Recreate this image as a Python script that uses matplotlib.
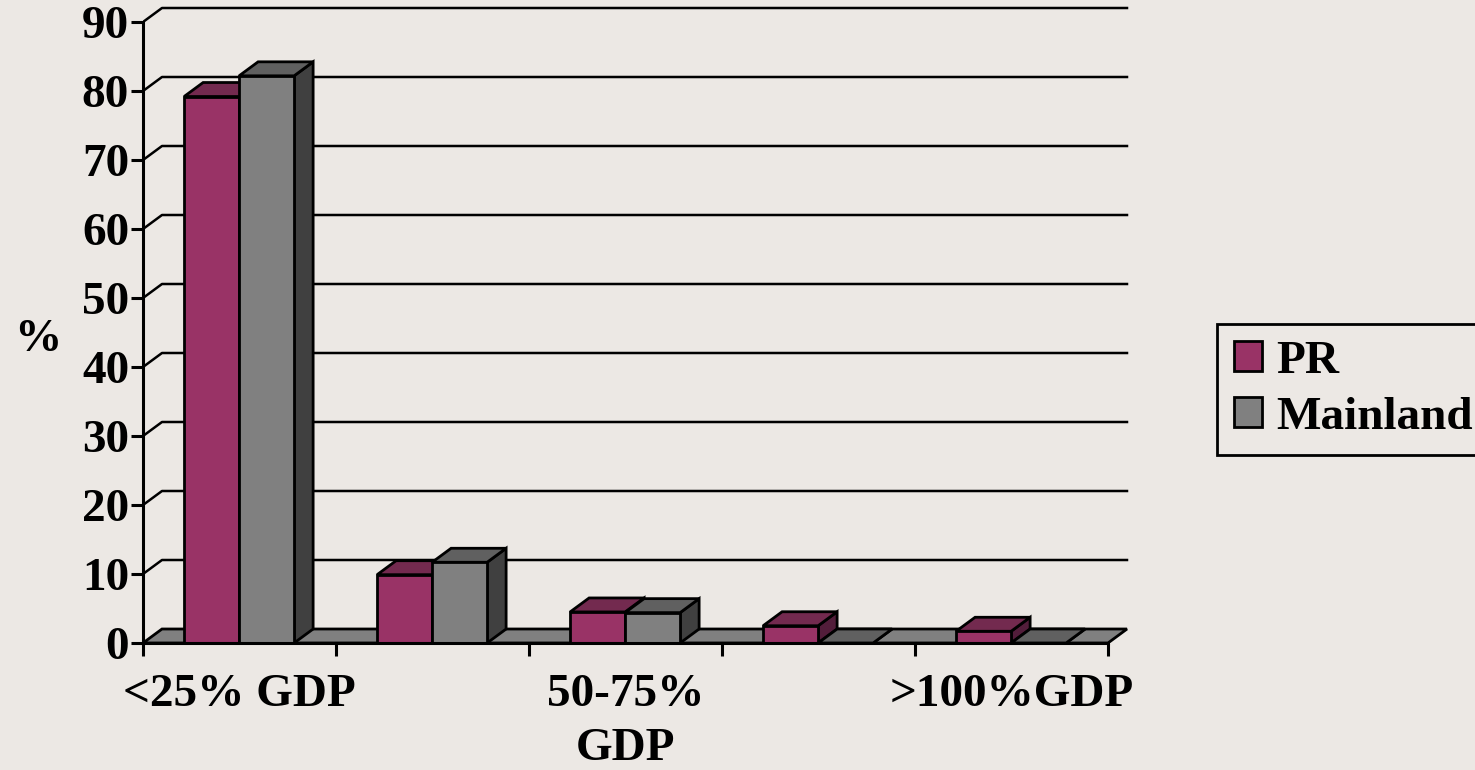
import matplotlib
matplotlib.use('Agg')
import matplotlib.pyplot as plt
from matplotlib.patches import Polygon, Patch

# data
categories = ['<25% GDP', '25-50% GDP', '50-75%\nGDP', '75-100% GDP', '>100%GDP']
shown = [0, 2, 4]   # only every other category label fits
pr = [79.2, 9.9, 4.5, 2.5, 1.7]
mainland = [82.2, 11.7, 4.4, 0, 0]
yticks = list(range(0, 100, 10))

bg = '#ECE8E4'
# front, top, side colours
pr_cols = ('#993366', '#732A4F', '#521D3A')
ml_cols = ('#808080', '#606060', '#404040')

plt.rcParams['font.family'] = 'Liberation Serif'
plt.rcParams['font.weight'] = 'bold'

fig = plt.figure(figsize=(14.75, 7.7), dpi=100, facecolor=bg)
ax = fig.add_axes([143/1475, 127/770, 987/1475, 638/770])
ax.set_facecolor(bg)
n = len(categories)
ax.set_xlim(0, n * 987/965)
ax.set_ylim(0, 90 * 638/621)

# oblique depth offset (about 19 px right, 14 px up)
ddx = 19/193
ddy = 14/6.9

# back wall gridlines with their left-wall diagonals
for v in yticks[1:]:
    ax.plot([0, ddx, n + ddx], [v, v + ddy, v + ddy], color='black', lw=1.8, zorder=1)

# floor
ax.add_patch(Polygon([(0, 0), (n, 0), (n + ddx, ddy), (ddx, ddy)], closed=True,
                     facecolor='#808080', edgecolor='black', lw=2, zorder=2))

w = 0.285
off = 0.213

def box(x0, h, cols):
    front, top, side = cols
    ax.add_patch(Polygon([(x0 + w, 0), (x0 + w + ddx, ddy), (x0 + w + ddx, h + ddy), (x0 + w, h)],
                         closed=True, facecolor=side, edgecolor='black', lw=2, zorder=3))
    ax.add_patch(Polygon([(x0, h), (x0 + w, h), (x0 + w + ddx, h + ddy), (x0 + ddx, h + ddy)],
                         closed=True, facecolor=top, edgecolor='black', lw=2, zorder=3))
    if h > 0:
        ax.add_patch(Polygon([(x0, 0), (x0 + w, 0), (x0 + w, h), (x0, h)],
                             closed=True, facecolor=front, edgecolor='black', lw=2, zorder=3))

for i in range(n):
    box(i + off, pr[i], pr_cols)
    box(i + off + w, mainland[i], ml_cols)

for s in ['top', 'right']:
    ax.spines[s].set_visible(False)
ax.spines['left'].set_bounds(0, 90)
ax.spines['bottom'].set_bounds(0, n)
ax.spines['left'].set_linewidth(2.2)
ax.spines['bottom'].set_linewidth(2.2)
ax.spines['left'].set_zorder(4)
ax.spines['bottom'].set_zorder(4)

ax.set_yticks(yticks)
ax.set_yticklabels([str(t) for t in yticks])
ax.tick_params(axis='y', direction='out', length=9, width=2.2, labelsize=34, pad=1)

ax.set_xticks(range(n + 1))
ax.set_xticklabels([''] * (n + 1))
ax.set_xticks([i + 0.5 for i in shown], minor=True)
ax.set_xticklabels([categories[i] for i in shown], minor=True, linespacing=1.4)
ax.tick_params(axis='x', which='major', direction='out', length=9, width=2.2)
ax.tick_params(axis='x', which='minor', length=0, labelsize=34, pad=22)

fig.text(38/1475, 1 - 340/770, '%', ha='center', va='center', fontsize=34)

handles = [Patch(facecolor=pr_cols[0], edgecolor='black', lw=2),
           Patch(facecolor=ml_cols[0], edgecolor='black', lw=2)]
leg = fig.legend(handles, ['PR', 'Mainland'], loc='upper left',
                 bbox_to_anchor=(1217/1475, 1 - 324/770), fontsize=34,
                 frameon=True, fancybox=False, edgecolor='black', facecolor=bg,
                 framealpha=1, handlelength=0.6, handleheight=0.6,
                 handletextpad=0.3, borderpad=0.35, labelspacing=0.3,
                 borderaxespad=0)
leg.get_frame().set_linewidth(2)

fig.savefig('out.png', dpi=100, facecolor=bg)
